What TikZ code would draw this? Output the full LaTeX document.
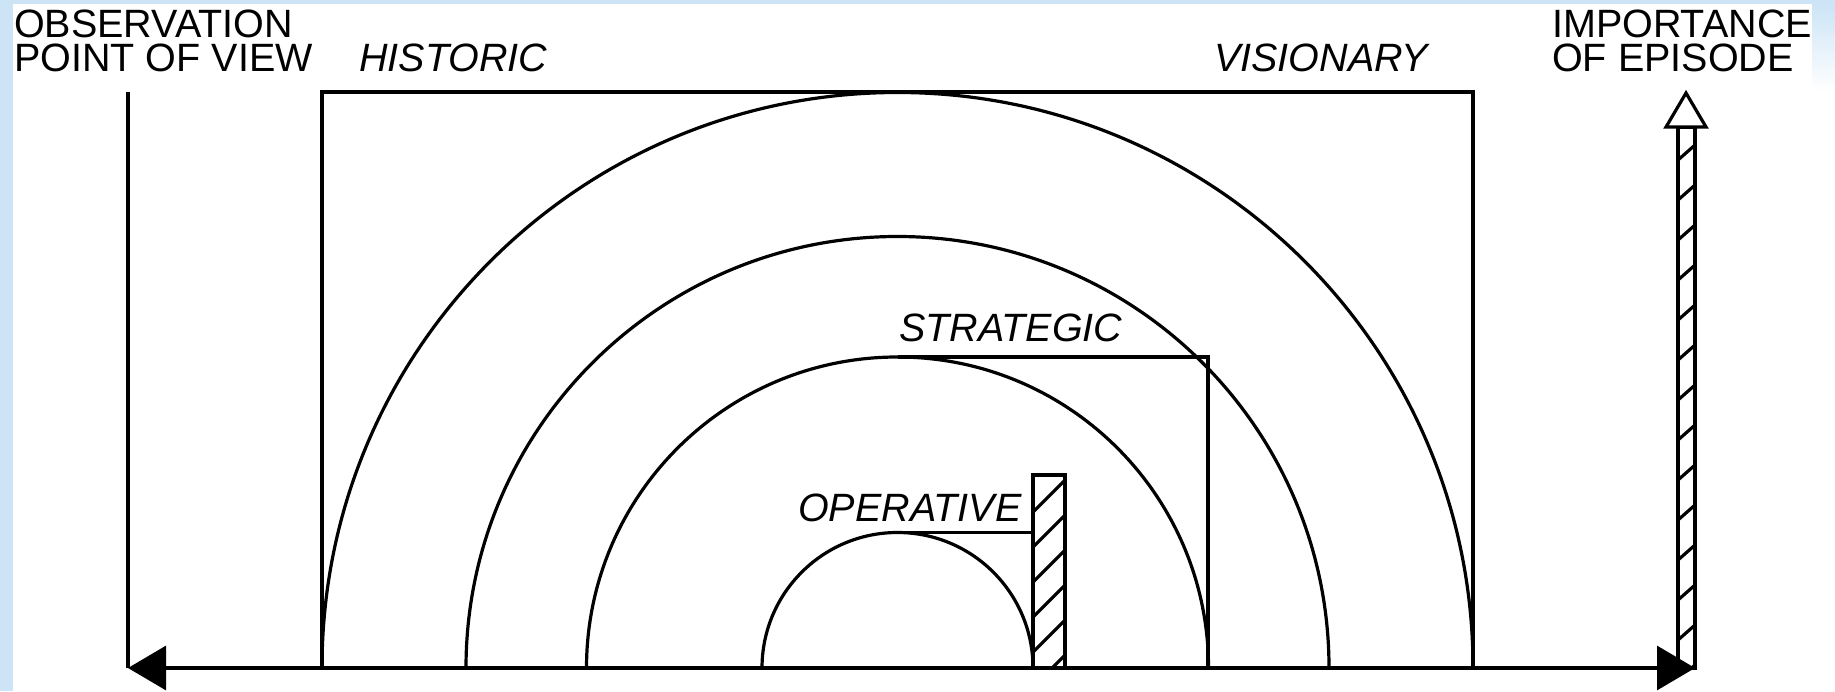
\documentclass[tikz,border=0pt]{standalone}
\usepackage{fontspec}
\setmainfont{Liberation Sans}
\usetikzlibrary{arrows.meta}
\definecolor{slideblue}{RGB}{204,228,246}

\begin{document}
\begin{tikzpicture}[x=1pt,y=1pt]
\tikzset{titre/.style={inner sep=0pt, anchor=base west, align=left, font=\fontsize{39.5}{34}\selectfont},
  titreit/.style={titre, font=\fontsize{39.5}{34}\selectfont\itshape},
  trait/.style={line width=3.2pt},
  axe/.style={trait, {Triangle[length=38pt,width=44pt]}-{Triangle[length=38pt,width=44pt]}}}
% fond de la diapositive
\useasboundingbox (0,0) rectangle (1835,691);
\fill[slideblue] (0,0) rectangle (1835,691);
\shade[top color=slideblue, bottom color=white] (1812,600) rectangle (1835,687);
\fill[white] (13,0) rectangle (1812,687);
\fill[white] (1812,0) rectangle (1835,600);
% points
\coordinate (G) at (128,23);
\coordinate (Ghaut) at (128,599);
\coordinate (D) at (1695,23);
\coordinate (C) at (897.5,23);
\coordinate (H1) at (322,23);
\coordinate (H2) at (322,599);
\coordinate (V2) at (1473,599);
\coordinate (V1) at (1473,23);
\coordinate (S1) at (897.5,334);
\coordinate (S2) at (1208,334);
\coordinate (S3) at (1208,23);
\coordinate (O1) at (897.5,158.5);
\coordinate (O2) at (1033,158.5);
\coordinate (B1) at (1033,23);
\coordinate (B2) at (1065,216);
\coordinate (I1) at (1678,23);
\coordinate (I2) at (1695,564);
% textes
\node[titre] (obs) at (14,619) {OBSERVATION\\POINT OF VIEW};
\node[titre] (imp) at (1552,619) {IMPORTANCE\\OF EPISODE};
\node[titreit] (hist) at (359,619) {HISTORIC};
\node[titreit] (vis) at (1214,619) {VISIONARY};
\node[titreit] (strat) at (899,349) {STRATEGIC};
\node[titreit] (oper) at (798,170) {OPERATIVE};
% cadres et arcs
\draw[trait] (G) -- (Ghaut);
\draw[trait] (H1) -- (H2) -- (V2) -- (V1);
\foreach \r in {575.5,431.5,311,135.5}
  \draw[trait] (C) ++(-\r,0) arc[start angle=180, end angle=0, radius=\r pt];
\draw[trait] (S1) -- (S2) -- (S3);
\draw[trait] (O1) -- (O2);
% barres hachurees
\begin{scope}
\clip (B1) rectangle (B2);
\foreach \y in {4,39,...,179}
  \draw[trait] (1033,\y) -- ++(32,32);
\end{scope}
\draw[trait] (B1) rectangle (B2);
\begin{scope}
\clip (I1) rectangle (I2);
\foreach \y in {11,51,...,531}
  \draw[trait] (1678,\y) -- ++(17,15);
\end{scope}
\draw[trait] (I1) rectangle (I2);
\draw[trait, fill=white] (1666,564) -- (1686,598) -- (1706,564) -- cycle;
\draw[axe] (G) -- (D);
\end{tikzpicture}
\end{document}
